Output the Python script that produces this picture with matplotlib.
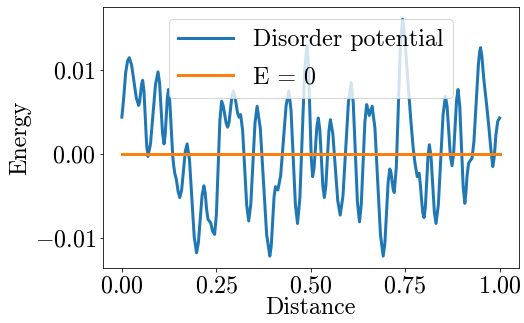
import matplotlib
matplotlib.use("Agg")
import matplotlib.pyplot as plt

plt.rcParams["font.family"] = ["cmr10", "DejaVu Serif"]
plt.rcParams["mathtext.fontset"] = "cm"
plt.rcParams["axes.formatter.use_mathtext"] = True
plt.rcParams["font.size"] = 24

# Sampled disorder potential along the wire
distance = [
    0.000, 0.005, 0.010, 0.015, 0.0196, 0.0258, 0.032, 0.0382, 0.0444,
    0.0470, 0.0497, 0.0524, 0.055, 0.0585, 0.062, 0.0655, 0.069,
    0.0757, 0.0824, 0.089, 0.0957, 0.0997, 0.1037, 0.1076, 0.1116,
    0.1145, 0.1175, 0.1204, 0.1233, 0.1265, 0.130, 0.1347, 0.1375, 0.140,
    0.144, 0.149, 0.1533, 0.1582, 0.163, 0.1678, 0.1727, 0.179, 0.1852,
    0.1915, 0.1977, 0.2025, 0.2074, 0.2122, 0.217, 0.2205, 0.224, 0.228,
    0.231, 0.235, 0.240, 0.2455, 0.2501, 0.2548, 0.2594, 0.264, 0.268,
    0.272, 0.276, 0.280, 0.2838, 0.2875, 0.2913, 0.295, 0.2988, 0.3025,
    0.3063, 0.310, 0.312, 0.3143, 0.3197, 0.325, 0.3304, 0.3357, 0.3413,
    0.3469, 0.3524, 0.358, 0.3664, 0.3748, 0.3832, 0.3916, 0.3954, 0.3991,
    0.4029, 0.4066, 0.4098, 0.413, 0.4203, 0.4275, 0.4348, 0.442, 0.4478,
    0.4535, 0.4593, 0.465, 0.4713, 0.4775, 0.4838, 0.490, 0.4938, 0.4975,
    0.5013, 0.505, 0.5088, 0.5125, 0.5163, 0.520, 0.524, 0.528, 0.532,
    0.536, 0.540, 0.544, 0.548, 0.552, 0.5585, 0.565, 0.5715, 0.578,
    0.5853, 0.5925, 0.5998, 0.607, 0.6125, 0.618, 0.6235, 0.629, 0.6338,
    0.6385, 0.6433, 0.648, 0.6515, 0.655, 0.659, 0.6626, 0.6699, 0.6772,
    0.6845, 0.6918, 0.6962, 0.7006, 0.705, 0.7094, 0.7123, 0.7152, 0.7181,
    0.721, 0.7265, 0.732, 0.7375, 0.743, 0.7465, 0.751, 0.758, 0.765,
    0.771, 0.776, 0.782, 0.787, 0.7905, 0.794, 0.797, 0.800, 0.8035,
    0.807, 0.8105, 0.814, 0.8184, 0.8228, 0.8272, 0.8316, 0.8378, 0.8441,
    0.8503, 0.8565, 0.8609, 0.8653, 0.8696, 0.874, 0.878, 0.882, 0.886,
    0.890, 0.8945, 0.899, 0.9035, 0.908, 0.911, 0.914, 0.918, 0.922,
    0.927, 0.932, 0.938, 0.944, 0.9475, 0.9495, 0.953, 0.958, 0.966,
    0.972, 0.977, 0.982, 0.986, 0.990, 0.995, 1.000,
]
potential = [
    0.0044, 0.0068, 0.0097, 0.0111, 0.0115, 0.0106, 0.00865, 0.0067, 0.0058,
    0.00625, 0.0073, 0.00835, 0.0088, 0.0075, 0.00425, 0.0011, -0.0003,
    0.0012, 0.00475, 0.0083, 0.0098, 0.0085, 0.0055, 0.0025, 0.0012,
    0.0022, 0.00445, 0.0067, 0.0077, 0.0065, 0.0035, -0.0003, -0.0015, -0.0023,
    -0.0030, -0.0045, -0.0052, -0.0043, -0.0020, 0.0003, 0.0012, -0.0007, -0.0053,
    -0.0099, -0.0118, -0.0106, -0.0078, -0.0050, -0.0038, -0.0046, -0.0065, -0.0078,
    -0.0080, -0.0082, -0.0092, -0.0096, -0.0073, -0.00165, 0.0040, 0.0063, 0.0058,
    0.00475, 0.0037, 0.0032, 0.0038, 0.00535, 0.0069, 0.0075, 0.0070, 0.00595,
    0.0049, 0.0044, 0.0045, 0.0047, 0.0028, -0.00165, -0.0061, -0.0080, -0.0060,
    -0.00115, 0.0037, 0.0057, 0.0031, -0.00325, -0.0096, -0.0122, -0.0110, -0.00805,
    -0.0051, -0.0039, -0.0042, -0.0043, -0.0026, 0.0016, 0.0058, 0.0075, 0.0052,
    -0.0004, -0.0060, -0.0083, -0.0052, 0.00235, 0.0099, 0.0130, 0.0107, 0.00515,
    -0.0004, -0.0027, -0.0017, 0.0008, 0.0033, 0.0043, 0.0029, -0.00045, -0.0038,
    -0.0052, -0.0038, -0.00055, 0.0027, 0.0041, 0.0024, -0.0016, -0.0056, -0.0073,
    -0.0050, 0.0006, 0.0062, 0.0085, 0.0061, 0.0002, -0.0057, -0.0081, -0.0060,
    -0.0011, 0.0038, 0.0059, 0.0053, 0.0046, 0.0052, 0.0057, 0.0031, -0.00325,
    -0.0096, -0.0122, -0.0107, -0.0070, -0.0033, -0.0018, -0.0022, -0.0032, -0.0042,
    -0.0046, -0.0016, 0.00575, 0.0131, 0.0161, 0.0150, 0.0125, 0.0082, 0.0040,
    0.0008, -0.0011, -0.0027, -0.0023, -0.0038, -0.0058, -0.0071, -0.0076, -0.0063,
    -0.00325, -0.0002, 0.0011, -0.0003, -0.0036, -0.0069, -0.0083, -0.0061, -0.0007,
    0.0047, 0.0069, 0.0057, 0.00275, -0.0002, -0.0014, -0.0001, 0.00315, 0.0064,
    0.0077, 0.0057, 0.0009, -0.0039, -0.0059, -0.0045, -0.0025, -0.0011, -0.0008,
    -0.0005, 0.0015, 0.0062, 0.0108, 0.0123, 0.0127, 0.0117, 0.0090, 0.0057,
    0.0030, 0.0005, -0.0015, -0.0003, 0.0022, 0.0039, 0.0043,
]
energy_level = [0.0, 0.0]
energy_x = [0.0, 1.0]

fig = plt.figure(figsize=(524 / 72, 323 / 72), dpi=72)
ax = fig.add_axes([103 / 524, 1 - 268 / 323, (518.5 - 103) / 524, (268 - 7.3) / 323])

ax.plot(distance, potential, color="tab:blue", lw=3, label="Disorder potential")
ax.plot(energy_x, energy_level, color="tab:orange", lw=3, label="E = 0")

ax.set_xticks([0.0, 0.25, 0.5, 0.75, 1.0])
ax.set_yticks([-0.01, 0.0, 0.01])
ax.set_xlabel("Distance", labelpad=0)
ax.set_ylabel("Energy", labelpad=3)
ax.legend(loc="upper center", handlelength=2.3, labelspacing=0.65)

fig.savefig("out.png", dpi=72)
